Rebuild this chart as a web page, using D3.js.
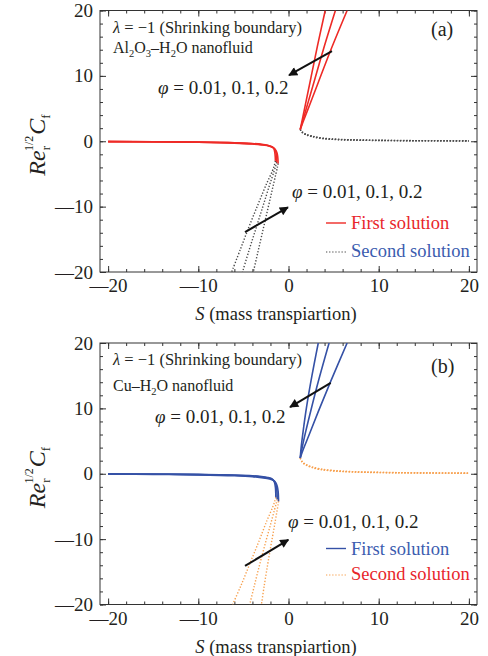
<!DOCTYPE html>
<html>
<head>
<meta charset="utf-8">
<script src="https://cdn.jsdelivr.net/npm/d3@7"></script>
<style>
body { margin: 0; background: #fff; }
svg text { font-family: "Liberation Serif", Tinos, "Times New Roman", Times, "DejaVu Serif", serif; fill: #231f20; }
</style>
</head>
<body>
<div id="chart-area"></div>
<script>
// axis setup
var xDomain = [-20.9, 20.9];
var yDomain = [-20, 20];
var xMajor = [-20, -10, 0, 10, 20];
var yMajor = [-20, -10, 0, 10, 20];
var xMinor = [-20, -18, -16, -14, -12, -10, -8, -6, -4, -2, 0, 2, 4, 6, 8, 10, 12, 14, 16, 18, 20];
var yMinor = [-20, -18, -16, -14, -12, -10, -8, -6, -4, -2, 0, 2, 4, 6, 8, 10, 12, 14, 16, 18, 20];

// (a) Al2O3-H2O : first solution, left branch (phi = 0.01, 0.1, 0.2)
var aFirstLeftS = [
  [-20, -15, -10, -6, -4, -3, -2.3, -1.9, -1.7, -1.58, -1.5, -1.45],
  [-20, -15, -10, -6, -4, -3, -2.2, -1.8, -1.55, -1.43, -1.35, -1.3],
  [-20, -15, -10, -6, -4, -3, -2.1, -1.7, -1.45, -1.3, -1.2, -1.15]
];
var aFirstLeftCf = [
  [-0.04, -0.07, -0.12, -0.22, -0.34, -0.46, -0.62, -0.8, -1.0, -1.3, -1.9, -3.0],
  [-0.05, -0.08, -0.14, -0.25, -0.38, -0.5, -0.68, -0.88, -1.15, -1.5, -2.1, -3.2],
  [-0.06, -0.09, -0.16, -0.28, -0.42, -0.56, -0.76, -0.98, -1.3, -1.7, -2.3, -3.4]
];
// (a) second solution, left branch
var aSecondLeftS = [
  [-1.45, -1.55, -1.8, -2.4, -3.3, -4.3, -5.3, -6.3],
  [-1.3, -1.4, -1.6, -2.1, -2.8, -3.6, -4.4, -5.1],
  [-1.15, -1.22, -1.4, -1.8, -2.3, -2.8, -3.4, -3.9]
];
var aSecondLeftCf = [
  [-3.0, -3.6, -4.6, -6.4, -9.4, -12.8, -16.4, -20],
  [-3.2, -3.7, -4.6, -6.7, -9.8, -13.3, -16.8, -20],
  [-3.4, -3.9, -5.0, -7.4, -10.4, -13.4, -17, -20]
];
// (a) first solution, right branch
var aFirstRightS = [
  [1.3, 1.5, 1.9, 2.5, 3.2, 4.07],
  [1.3, 1.55, 2.1, 2.9, 3.9, 5.2],
  [1.3, 1.6, 2.3, 3.3, 4.7, 6.5]
];
var aFirstRightCf = [
  [1.8, 3.1, 5.8, 9.8, 14.5, 20],
  [1.8, 3.0, 5.6, 9.4, 14.2, 20],
  [1.8, 2.9, 5.4, 9.0, 14.0, 20]
];
// (a) second solution, right branch
var aSecondRightS = [
  [1.3, 1.5, 1.9, 2.6, 3.7, 5.5, 8, 12, 16, 20],
  [1.3, 1.5, 1.9, 2.6, 3.7, 5.5, 8, 12, 16, 20],
  [1.3, 1.5, 1.9, 2.6, 3.7, 5.5, 8, 12, 16, 20]
];
var aSecondRightCf = [
  [1.8, 1.45, 1.1, 0.8, 0.5, 0.3, 0.2, 0.12, 0.09, 0.07],
  [1.8, 1.4, 1.05, 0.75, 0.45, 0.27, 0.17, 0.1, 0.07, 0.05],
  [1.8, 1.35, 1.0, 0.7, 0.42, 0.24, 0.15, 0.09, 0.06, 0.04]
];

// (b) Cu-H2O
var bFirstLeftS = [
  [-20, -15, -10, -6, -4, -3, -2.3, -1.9, -1.7, -1.55, -1.45, -1.4],
  [-20, -15, -10, -6, -4, -3, -2.2, -1.8, -1.55, -1.4, -1.3, -1.25],
  [-20, -15, -10, -6, -4, -3, -2.1, -1.65, -1.4, -1.25, -1.15, -1.1]
];
var bFirstLeftCf = [
  [-0.02, -0.05, -0.1, -0.2, -0.3, -0.42, -0.56, -0.72, -0.95, -1.35, -2.1, -3.6],
  [-0.04, -0.07, -0.13, -0.24, -0.36, -0.5, -0.66, -0.86, -1.15, -1.6, -2.4, -3.9],
  [-0.06, -0.1, -0.17, -0.3, -0.44, -0.6, -0.8, -1.05, -1.4, -1.9, -2.7, -4.2]
];
var bSecondLeftS = [
  [-1.4, -1.5, -1.75, -2.4, -3.3, -4.3, -5.3, -6.2],
  [-1.25, -1.33, -1.55, -2.0, -2.6, -3.2, -3.8, -4.3],
  [-1.1, -1.15, -1.3, -1.6, -1.95, -2.3, -2.7, -3.0]
];
var bSecondLeftCf = [
  [-3.6, -4.1, -5.1, -7.2, -10.4, -13.8, -17.2, -20],
  [-3.9, -4.4, -5.5, -7.8, -10.8, -13.9, -17.2, -20],
  [-4.2, -4.7, -5.9, -8.3, -11.0, -13.8, -17.2, -20]
];
var bFirstRightS = [
  [1.3, 1.4, 1.65, 2.0, 2.6, 3.3],
  [1.3, 1.5, 1.9, 2.5, 3.4, 4.5],
  [1.3, 1.6, 2.3, 3.3, 4.7, 6.5]
];
var bFirstRightCf = [
  [2.4, 4.0, 6.8, 10.2, 15.0, 20],
  [2.4, 3.9, 6.4, 9.8, 14.6, 20],
  [2.4, 3.6, 6.0, 9.5, 14.2, 20]
];
var bSecondRightS = [
  [1.3, 1.5, 1.9, 2.5, 3.5, 5, 7, 10, 14, 20],
  [1.3, 1.5, 1.9, 2.5, 3.5, 5, 7, 10, 14, 20],
  [1.3, 1.5, 1.9, 2.5, 3.5, 5, 7, 10, 14, 20]
];
var bSecondRightCf = [
  [2.4, 1.9, 1.45, 1.1, 0.75, 0.5, 0.33, 0.22, 0.15, 0.1],
  [2.4, 1.85, 1.4, 1.05, 0.7, 0.46, 0.3, 0.2, 0.13, 0.09],
  [2.4, 1.8, 1.35, 1.0, 0.65, 0.42, 0.27, 0.18, 0.12, 0.08]
];

// arrows in data units [S0, Cf0, S1, Cf1]
var aArrows = [[4.82, 13.8, 0.06, 10.1], [-4.82, -13.9, -0.06, -10.1]];
var bArrows = [[4.68, 13.9, 0.17, 10.2], [-4.82, -14.1, -0.02, -10.1]];

var panels = [
  { offset: 0, tag: '(a)', fluid: 'al', first: '#ee2a26', second: '#4a4a4a',
    firstText: '#e8262b', secondText: '#3b5caf',
    fL: [aFirstLeftS, aFirstLeftCf], sL: [aSecondLeftS, aSecondLeftCf],
    fR: [aFirstRightS, aFirstRightCf], sR: [aSecondRightS, aSecondRightCf], arrows: aArrows,
    lam: 33, fl: 53, tagY: 36, phiU: [158, 94], phiL: [292, 198], leg1: 223, leg2: 252 },
  { offset: 332.5, tag: '(b)', fluid: 'cu', first: '#3551a6', second: '#f7a04e',
    firstText: '#3b5caf', secondText: '#e8262b',
    fL: [bFirstLeftS, bFirstLeftCf], sL: [bSecondLeftS, bSecondLeftCf],
    fR: [bFirstRightS, bFirstRightCf], sR: [bSecondRightS, bSecondRightCf], arrows: bArrows,
    lam: 32, fl: 58, tagY: 40, phiU: [155, 90], phiL: [288, 195.5], leg1: 216, leg2: 242.5 }
];

var svg = d3.select('#chart-area').append('svg')
    .attr('width', 488)
    .attr('height', 656);

var defs = svg.append('defs');
defs.append('marker')
    .attr('id', 'head')
    .attr('viewBox', '0 0 10 10')
    .attr('refX', 9).attr('refY', 5)
    .attr('markerWidth', 5).attr('markerHeight', 4.5)
    .attr('markerUnits', 'strokeWidth')
    .attr('orient', 'auto')
  .append('path').attr('d', 'M0,0 L10,5 L0,10 z').attr('fill', '#111');

defs.append('clipPath').attr('id', 'plot-clip')
  .append('rect').attr('x', 100).attr('y', 10.5).attr('width', 377).attr('height', 261.5);

var x = d3.scaleLinear().domain(xDomain).range([100, 477]);
var y = d3.scaleLinear().domain(yDomain).range([272, 10.5]);

var line = d3.line()
    .x(d => x(d[0]))
    .y(d => y(d[1]))
    .curve(d3.curveCatmullRom.alpha(0.5));

// long dash as minus, like the printed figure
var tickFmt = d => d < 0 ? '\u2014' + Math.abs(d) : String(d);

function zipCurves(pair) {
  return pair[0].map((s, i) => s.map((v, j) => [v, pair[1][i][j]]));
}

panels.forEach(p => drawPanel(p));

function drawPanel(p) {
  var g = svg.append('g').attr('transform', `translate(0, ${p.offset})`);

  // ticks on all four sides, inward
  function styleAxis(sel) {
    sel.select('.domain').remove();
    sel.attr('font-family', null);
    sel.selectAll('line').attr('stroke', '#333');
    sel.selectAll('text').attr('font-size', 19).attr('fill', '#231f20');
  }
  g.append('g').attr('transform', 'translate(0,272)')
    .call(d3.axisBottom(x).tickValues(xMinor).tickSize(-3).tickFormat('')).call(styleAxis);
  g.append('g').attr('transform', 'translate(0,272)')
    .call(d3.axisBottom(x).tickValues(xMajor).tickSize(-6).tickPadding(7).tickFormat(tickFmt)).call(styleAxis);
  g.append('g').attr('transform', 'translate(0,10.5)')
    .call(d3.axisTop(x).tickValues(xMinor).tickSize(-3).tickFormat('')).call(styleAxis);
  g.append('g').attr('transform', 'translate(0,10.5)')
    .call(d3.axisTop(x).tickValues(xMajor).tickSize(-6).tickFormat('')).call(styleAxis);
  g.append('g').attr('transform', 'translate(100,0)')
    .call(d3.axisLeft(y).tickValues(yMinor).tickSize(-3).tickFormat('')).call(styleAxis);
  g.append('g').attr('transform', 'translate(100,0)')
    .call(d3.axisLeft(y).tickValues(yMajor).tickSize(-6).tickPadding(7).tickFormat(tickFmt)).call(styleAxis);
  g.append('g').attr('transform', 'translate(477,0)')
    .call(d3.axisRight(y).tickValues(yMinor).tickSize(-3).tickFormat('')).call(styleAxis);
  g.append('g').attr('transform', 'translate(477,0)')
    .call(d3.axisRight(y).tickValues(yMajor).tickSize(-6).tickFormat('')).call(styleAxis);

  g.append('rect')
    .attr('x', 100).attr('y', 10.5).attr('width', 377).attr('height', 261.5)
    .attr('fill', 'none').attr('stroke', '#333').attr('stroke-width', 1);

  var plot = g.append('g').attr('clip-path', 'url(#plot-clip)');

  // second solutions (dotted)
  zipCurves(p.sL).concat(zipCurves(p.sR)).forEach(c => {
    plot.append('path').attr('d', line(c))
      .attr('fill', 'none').attr('stroke', p.second)
      .attr('stroke-width', 1.4).attr('stroke-dasharray', '1.3,1.8');
  });
  // first solutions (solid)
  zipCurves(p.fL).concat(zipCurves(p.fR)).forEach(c => {
    plot.append('path').attr('d', line(c))
      .attr('fill', 'none').attr('stroke', p.first)
      .attr('stroke-width', 1.6);
  });

  // arrows
  p.arrows.forEach(a => {
    g.append('line')
      .attr('x1', x(a[0])).attr('y1', y(a[1]))
      .attr('x2', x(a[2])).attr('y2', y(a[3]))
      .attr('stroke', '#111').attr('stroke-width', 2)
      .attr('marker-end', 'url(#head)');
  });

  // annotations
  var lam = g.append('text').attr('x', 113).attr('y', p.lam).attr('font-size', 16.5);
  lam.append('tspan').attr('font-style', 'italic').text('λ');
  lam.append('tspan').text(' = −1 (Shrinking boundary)');

  var fl = g.append('text').attr('x', 113).attr('y', p.fl).attr('font-size', 16);
  if (p.fluid === 'al') {
    fl.append('tspan').text('Al');
    fl.append('tspan').attr('font-size', 10.5).attr('dy', 4).text('2');
    fl.append('tspan').attr('dy', -4).text('O');
    fl.append('tspan').attr('font-size', 10.5).attr('dy', 4).text('3');
    fl.append('tspan').attr('dy', -4).text('–H');
    fl.append('tspan').attr('font-size', 10.5).attr('dy', 4).text('2');
    fl.append('tspan').attr('dy', -4).text('O nanofluid');
  } else {
    fl.append('tspan').text('Cu–H');
    fl.append('tspan').attr('font-size', 10.5).attr('dy', 4).text('2');
    fl.append('tspan').attr('dy', -4).text('O nanofluid');
  }

  g.append('text').attr('x', 431).attr('y', p.tagY).attr('font-size', 20).text(p.tag);

  [p.phiU, p.phiL].forEach(pos => {
    var t = g.append('text').attr('x', pos[0]).attr('y', pos[1]).attr('font-size', 19);
    t.append('tspan').attr('font-style', 'italic').text('φ');
    t.append('tspan').text(' = 0.01, 0.1, 0.2');
  });

  // legend
  g.append('line').attr('x1', 326).attr('x2', 346).attr('y1', p.leg1).attr('y2', p.leg1)
    .attr('stroke', p.first).attr('stroke-width', 1.4);
  g.append('text').attr('x', 351).attr('y', p.leg1 + 6).attr('font-size', 18.5)
    .style('fill', p.firstText).text('First solution');
  g.append('line').attr('x1', 326).attr('x2', 346).attr('y1', p.leg2).attr('y2', p.leg2)
    .attr('stroke', p.second).attr('stroke-width', 1.2).attr('stroke-dasharray', '1.3,1.8');
  g.append('text').attr('x', 351).attr('y', p.leg2 + 5).attr('font-size', 18.5)
    .style('fill', p.secondText).text('Second solution');

  // axis titles
  var xt = g.append('text').attr('x', 276).attr('y', 320).attr('text-anchor', 'middle').attr('font-size', 18.5);
  xt.append('tspan').attr('font-style', 'italic').text('S');
  xt.append('tspan').text(' (mass transpiartion)');

  var yt = g.append('text').attr('transform', 'translate(45,145) rotate(-90)')
    .attr('text-anchor', 'middle').attr('font-size', 24);
  yt.append('tspan').attr('font-style', 'italic').text('Re');
  yt.append('tspan').attr('font-size', 13).attr('dy', 5).text('r');
  yt.append('tspan').attr('font-size', 12).attr('dx', -5).attr('dy', -17).text('1/2');
  yt.append('tspan').attr('font-style', 'italic').attr('dx', 1).attr('dy', 12).text('C');
  yt.append('tspan').attr('font-size', 13).attr('dy', 5).text('f');
}
</script>
</body>
</html>
